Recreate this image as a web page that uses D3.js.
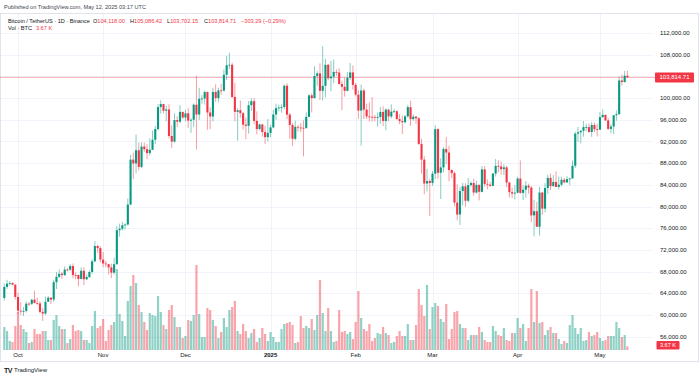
<!DOCTYPE html>
<html><head><meta charset="utf-8">
<script src="https://cdn.jsdelivr.net/npm/d3@7"></script>
<style>
html,body{margin:0;padding:0;background:#fff;}
svg{display:block;font-family:"Liberation Sans",Arial,sans-serif;}
</style></head><body>
<svg id="c" width="700" height="378"></svg>
<script>
// ---- DATA (BTC/USDT daily, prices in thousands of USDT) ----
const startDay = "2024-09-26";
const candles = [ // [open, high, low, close]
// Sep 26-30
[63.15,65.80,62.67,65.18],[65.18,66.50,64.80,65.79],[65.79,66.26,65.42,65.89],[65.89,66.08,65.43,65.60],[65.60,65.62,62.85,63.33],
// Oct
[63.33,64.13,60.16,60.80],[60.80,62.39,59.98,60.65],[60.65,61.47,59.83,60.75],[60.75,62.48,60.46,62.09],[62.09,62.37,61.68,62.06],
[62.06,62.98,61.80,62.82],[62.82,64.48,62.13,62.22],[62.22,63.20,61.82,62.13],[62.13,62.54,60.30,60.58],[60.58,61.32,58.90,60.27],
[60.27,63.42,60.00,62.45],[62.45,63.48,62.44,63.19],[63.19,63.28,62.03,62.85],[62.85,66.50,62.42,66.05],[66.05,67.95,64.80,67.04],
[67.04,68.42,66.75,67.61],[67.61,67.94,66.65,67.37],[67.37,68.97,67.18,68.38],[68.38,68.67,68.03,68.36],[68.36,69.40,68.10,69.03],
[69.03,69.50,66.76,67.38],[67.38,67.84,66.57,67.37],[67.37,67.47,65.26,66.65],[66.65,68.82,66.56,68.16],[68.16,68.78,65.52,66.59],
[66.59,67.45,66.46,67.01],[67.01,68.22,66.79,67.93],[67.93,70.27,67.62,69.90],[69.90,73.62,69.73,72.72],[72.72,72.96,71.44,72.34],
[72.34,72.70,69.69,70.22],
// Nov
[70.22,71.63,68.82,69.50],[69.50,70.00,68.78,69.37],[69.37,69.42,67.48,68.78],[68.78,69.48,66.80,67.81],[67.81,70.58,67.46,69.36],
[69.36,76.40,69.30,75.64],[75.64,76.85,74.42,75.90],[75.90,77.20,75.56,76.54],[76.54,76.95,75.75,76.68],[76.68,81.50,76.49,80.37],
[80.37,89.53,80.22,88.65],[88.65,89.94,85.07,87.95],[87.95,93.27,86.13,90.38],[90.38,91.79,86.67,87.31],[87.31,91.85,87.09,91.06],
[91.06,91.80,90.09,90.58],[90.58,91.47,88.72,89.85],[89.85,92.59,89.38,90.47],[90.47,94.00,90.38,92.31],[92.31,94.83,91.50,94.29],
[94.29,98.89,94.04,98.35],[98.35,99.59,97.13,98.89],[98.89,98.95,97.19,97.67],[97.67,98.56,95.73,97.90],[97.90,98.87,92.60,93.01],
[93.01,94.97,90.79,91.97],[91.97,97.21,91.77,95.95],[95.95,96.65,94.68,95.65],[95.65,98.69,95.38,97.46],[97.46,97.46,96.16,96.41],
// Dec
[96.41,97.84,95.69,97.19],[97.19,98.15,94.50,95.84],[95.84,96.30,93.58,96.00],[96.00,99.00,94.66,98.77],[98.77,104.09,90.50,96.97],
[96.97,101.90,95.98,99.87],[99.87,100.55,98.95,99.92],[99.92,101.40,98.80,101.11],[101.11,101.20,94.15,97.34],[97.34,98.27,94.26,96.60],
[96.60,101.90,95.70,101.13],[101.13,102.54,99.31,100.00],[100.00,101.89,99.20,101.42],[101.42,102.65,100.61,101.37],[101.37,105.25,101.23,104.30],
[104.30,107.78,103.34,106.06],[106.06,108.35,105.32,106.14],[106.14,106.52,100.00,100.20],[100.20,102.80,95.70,97.46],[97.46,98.15,92.13,97.76],
[97.76,99.54,96.40,97.22],[97.22,97.40,94.20,95.10],[95.10,96.42,92.40,94.88],[94.88,99.46,93.45,98.68],[98.68,99.96,97.60,99.43],
[99.43,99.96,95.20,95.79],[95.79,97.54,93.26,94.30],[94.30,95.26,94.00,95.14],[95.14,95.20,92.88,93.74],[93.74,94.90,91.50,92.79],
[92.79,96.15,92.00,93.58],
// Jan
[93.58,95.10,92.80,94.59],[94.59,97.84,94.40,96.98],[96.98,98.98,96.00,98.15],[98.15,98.77,97.55,98.25],[98.25,98.85,97.30,98.35],
[98.35,102.48,97.92,102.28],[102.28,102.72,96.14,96.95],[96.95,97.26,92.50,95.04],[95.04,95.38,91.20,92.49],[92.49,95.84,92.20,94.70],
[94.70,95.00,93.83,94.57],[94.57,95.40,93.71,94.52],[94.52,95.90,89.26,94.50],[94.50,97.37,94.32,96.53],[96.53,100.68,96.50,100.50],
[100.50,100.86,97.35,99.99],[99.99,105.87,99.95,104.08],[104.08,104.99,102.28,104.56],[104.56,106.40,99.65,101.34],[101.34,109.59,99.55,102.26],
[102.26,107.24,100.12,106.14],[106.14,106.33,103.26,103.65],[103.65,106.85,101.26,103.96],[103.96,107.12,102.75,104.82],[104.82,105.29,104.10,104.71],
[104.71,105.50,102.52,102.59],[102.59,103.22,97.78,102.08],[102.08,103.78,100.27,101.33],[101.33,104.78,101.25,103.73],[103.73,106.46,103.30,104.73],
[104.73,106.01,101.56,102.43],
// Feb
[102.43,102.78,100.28,100.64],[100.64,101.46,96.15,97.69],[97.69,102.50,91.23,101.40],[101.40,101.73,96.15,97.87],[97.87,99.00,96.16,96.62],
[96.62,99.20,95.68,96.55],[96.55,100.14,95.65,96.53],[96.53,96.88,95.68,96.48],[96.48,97.32,94.75,96.50],[96.50,98.35,95.26,97.44],
[97.44,98.50,94.85,95.78],[95.78,98.12,94.09,97.87],[97.87,98.00,95.70,96.61],[96.61,98.83,96.25,97.50],[97.50,97.97,97.23,97.57],
[97.57,97.73,96.05,96.12],[96.12,97.04,95.20,95.77],[95.77,96.75,93.39,95.54],[95.54,96.88,95.33,96.63],[96.63,98.76,96.42,98.33],
[98.33,99.51,94.87,96.12],[96.12,96.96,95.80,96.58],[96.58,96.67,95.27,96.27],[96.27,96.50,91.35,91.55],[91.55,92.50,86.05,88.65],
[88.65,89.29,82.25,84.25],[84.25,87.00,82.78,84.70],[84.70,85.12,78.26,84.35],
// Mar
[84.35,86.56,83.82,86.06],[86.06,95.00,85.05,94.27],[94.27,94.42,85.12,86.22],[86.22,88.91,81.39,87.22],[87.22,90.99,86.28,90.62],
[90.62,92.81,87.85,89.96],[89.96,91.23,84.67,86.74],[86.74,86.85,85.25,86.15],[86.15,86.47,80.00,80.73],[80.73,84.12,77.46,78.53],
[78.53,83.62,76.61,82.86],[82.86,84.36,80.20,83.72],[83.72,84.30,79.94,81.07],[81.07,85.30,80.80,83.97],[83.97,84.67,83.63,84.34],
[84.34,85.12,82.00,82.58],[82.58,84.76,82.38,84.01],[84.01,84.02,81.13,82.72],[82.72,87.45,82.60,86.85],[86.85,87.45,83.66,84.17],
[84.17,85.00,83.18,84.04],[84.04,84.56,83.63,83.83],[83.83,86.19,83.76,86.08],[86.08,88.77,85.53,87.50],[87.50,88.54,86.30,87.39],
[87.39,88.29,85.86,86.90],[86.90,87.79,85.80,87.23],[87.23,87.52,83.60,84.42],[84.42,84.57,81.65,82.65],[82.65,83.50,81.57,82.39],
[82.39,83.95,81.30,82.55],
// Apr
[82.55,85.49,82.43,85.16],[85.16,88.50,82.32,82.52],[82.52,83.93,81.21,83.10],[83.10,84.72,81.66,83.84],[83.84,84.23,82.37,83.50],
[83.50,83.75,77.15,78.37],[78.37,81.24,74.51,79.14],[79.14,80.86,76.24,76.27],[76.27,83.59,74.62,82.58],[82.58,82.70,78.46,79.61],
[79.61,84.30,78.94,83.42],[83.42,85.90,82.30,85.28],[85.28,86.10,83.03,83.76],[83.76,85.80,83.68,84.54],[84.54,86.50,83.58,83.62],
[83.62,85.50,83.11,84.03],[84.03,85.47,83.74,84.94],[84.94,85.28,84.31,84.45],[84.45,85.60,84.33,85.06],[85.06,85.31,83.95,85.17],
[85.17,88.46,85.14,87.52],[87.52,93.82,87.08,93.44],[93.44,94.70,91.92,93.69],[93.69,94.00,91.66,93.98],[93.98,95.76,92.88,94.64],
[94.64,95.28,93.90,94.65],[94.65,95.35,93.59,93.75],[93.75,95.60,92.85,95.04],[95.04,95.47,93.74,94.26],[94.26,95.23,92.91,94.17],
// May 1-11
[94.17,97.44,94.13,96.49],[96.49,97.90,96.35,96.91],[96.91,96.94,95.77,95.89],[95.89,96.32,94.14,94.32],[94.32,95.20,93.51,94.75],
[94.75,96.89,93.38,96.83],[96.83,97.73,95.80,97.03],[97.03,103.97,96.89,103.24],[103.24,104.32,102.32,102.97],[102.97,104.98,102.82,104.12],
[104.118,105.08642,103.70215,103.81471]
];
const volumes = [ // thousands of BTC
23,19,9,8,24,38,25,21,18,7,8,21,16,16,19,19,10,10,30,35,24,21,21,7,11,25,19,20,19,10,
10,7,24,39,22,24,31,9,20,25,28,81,36,29,14,49,64,75,67,45,38,28,20,37,35,34,54,38,25,21,
40,45,33,23,23,12,14,30,29,35,85,36,13,13,42,40,30,24,
12,18,32,23,40,43,49,19,16,26,19,12,17,21,8,12,22,16,9,18,13,8,8,21,26,27,28,25,7,8,
34,22,24,22,31,20,35,70,37,19,42,19,8,9,40,18,19,16,18,11,28,59,32,21,19,26,9,12,17,16,
23,17,15,7,8,14,19,14,14,26,10,10,25,61,45,34,65,21,43,
47,44,31,28,46,11,21,38,39,26,22,22,10,15,15,15,23,18,10,8,8,24,19,15,14,22,10,9,17,17,
32,22,26,9,22,61,28,59,27,28,15,20,23,17,17,11,6,9,7,25,35,22,16,22,9,10,18,14,15,18,
12,9,10,14,14,14,28,22,13,15,3.67
];
const priceTicks = [56,60,64,68,72,76,80,84,88,92,96,100,104,108,112];
const monthTicks = ["2024-10-01","2024-11-01","2024-12-01","2025-01-01","2025-02-01","2025-03-01","2025-04-01","2025-05-01"];
const monthLabels = ["Oct","Nov","Dec","2025","Feb","Mar","Apr","May"];
const lastPrice = 103.81471;
const lastVolText = "3.67 K";
const publishedText = "Published on TradingView.com, May 12, 2025 03:17 UTC";
const titleText = "Bitcoin / TetherUS · 1D · Binance";
const ohlcText = [["O","104,118.00"],["H","105,086.42"],["L","103,702.15"],["C","103,814.71"],["","\u2212303.29 (\u22120.29%)"]];

// ---- RENDER ----
const UP = "#089981", DOWN = "#f23645", TXT = "#131722", GRID = "#f0f3fa";
const svg = d3.select("#c");
const parse = d3.utcParse("%Y-%m-%d");
const dates = candles.map((d,i) => d3.utcDay.offset(parse(startDay), i));
const x = d3.scaleUtc().domain([dates[0], dates[dates.length-1]]).range([4.3, 627.4]);
const y = d3.scaleLinear().domain([56,112]).range([336.7,33]);
const yv = d3.scaleLinear().domain([0,100]).range([350,250]);
const plotRight = 653;

// frame
svg.append("rect").attr("x",0.5).attr("y",13.5).attr("width",698).attr("height",348)
  .attr("fill","none").attr("stroke","#e0e3eb").attr("stroke-width",1);

// grid
svg.append("g").selectAll("line").data(priceTicks).join("line")
  .attr("x1",1).attr("x2",plotRight).attr("y1",d=>Math.round(y(d))+0.5).attr("y2",d=>Math.round(y(d))+0.5)
  .attr("stroke",GRID).attr("stroke-width",1);
svg.append("g").selectAll("line").data(monthTicks).join("line")
  .attr("x1",d=>Math.round(x(parse(d)))+0.5).attr("x2",d=>Math.round(x(parse(d)))+0.5)
  .attr("y1",14).attr("y2",350).attr("stroke",GRID).attr("stroke-width",1);

// volume
svg.append("g").selectAll("rect").data(volumes).join("rect")
  .attr("x",(d,i)=>x(dates[i])-1.1).attr("width",2.2)
  .attr("y",d=>yv(d)).attr("height",d=>yv(0)-yv(d))
  .attr("fill",(d,i)=>candles[i][3]>=candles[i][0]?UP:DOWN).attr("fill-opacity",0.45);

// last price line
svg.append("line").attr("x1",0).attr("x2",656).attr("y1",y(lastPrice)).attr("y2",y(lastPrice))
  .attr("stroke",DOWN).attr("stroke-opacity",0.4).attr("stroke-width",1);

// candles
const cg = svg.append("g");
cg.selectAll("line").data(candles).join("line")
  .attr("x1",(d,i)=>x(dates[i])).attr("x2",(d,i)=>x(dates[i]))
  .attr("y1",d=>y(d[1])).attr("y2",d=>y(d[2]))
  .attr("stroke",d=>d[3]>=d[0]?UP:DOWN).attr("stroke-opacity",0.55).attr("stroke-width",0.9);
cg.selectAll("rect").data(candles).join("rect")
  .attr("x",(d,i)=>x(dates[i])-1.05).attr("width",2.1)
  .attr("y",d=>y(Math.max(d[0],d[3])))
  .attr("height",d=>Math.max(0.8, Math.abs(y(d[0])-y(d[3]))))
  .attr("fill",d=>d[3]>=d[0]?UP:DOWN);

// price axis labels
const fmt = d3.format(",.2f");
svg.append("g").selectAll("text").data(priceTicks).join("text")
  .attr("x",660).attr("y",d=>y(d)).attr("dy","0.35em")
  .attr("font-size",6).attr("fill",TXT).text(d=>fmt(d*1000));

// last price label
const ly = y(lastPrice);
svg.append("rect").attr("x",655).attr("y",ly-5).attr("width",39).attr("height",10).attr("rx",1).attr("fill",DOWN);
svg.append("text").attr("x",674.5).attr("y",ly).attr("dy","0.35em").attr("text-anchor","middle")
  .attr("font-size",6).attr("fill","#fff").text(fmt(lastPrice*1000));
// volume label
svg.append("rect").attr("x",656.5).attr("y",341).attr("width",23).attr("height",8.5).attr("rx",1).attr("fill",DOWN);
svg.append("text").attr("x",668).attr("y",345.3).attr("dy","0.35em").attr("text-anchor","middle")
  .attr("font-size",5.6).attr("fill","#fff").text(lastVolText);

// month labels
svg.append("g").selectAll("text").data(monthTicks).join("text")
  .attr("x",d=>x(parse(d))).attr("y",357).attr("text-anchor","middle")
  .attr("font-size",6).attr("fill",TXT)
  .attr("font-weight",(d,i)=>monthLabels[i]==="2025"?"bold":"normal")
  .text((d,i)=>monthLabels[i]);

// header
svg.append("text").attr("x",4).attr("y",9.3).attr("font-size",5.6).attr("fill","#434651").text(publishedText);
svg.append("text").attr("x",8).attr("y",22.6).attr("font-size",5.6).attr("fill",TXT).text(titleText);
const groupX = d3.scalePoint().domain(d3.range(ohlcText.length)).range([93,241]);
const og = svg.append("g").selectAll("text").data(ohlcText).join("text")
  .attr("x",(d,i)=>groupX(i)).attr("y",22.6).attr("font-size",5.6);
og.append("tspan").attr("fill",TXT).text(d=>d[0]);
og.append("tspan").attr("fill",DOWN).text(d=>d[1]);
const t3 = svg.append("text").attr("x",8).attr("y",29.5).attr("font-size",5.6).attr("fill",TXT);
t3.append("tspan").text("Vol · BTC");
t3.append("tspan").attr("dx",4).attr("fill",DOWN).text(lastVolText);

// footer logo
svg.append("text").attr("x",4).attr("y",372.5).attr("font-size",7).attr("font-weight","bold")
  .attr("fill",TXT).attr("letter-spacing",-0.6).text("TV");
svg.append("text").attr("x",14).attr("y",372.2).attr("font-size",6).attr("fill",TXT).text("TradingView");
</script>
</body></html>
